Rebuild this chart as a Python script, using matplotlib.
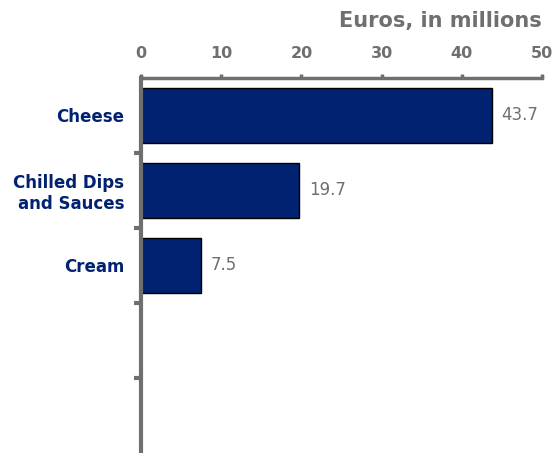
import matplotlib
matplotlib.use("Agg")
from matplotlib import pyplot as plt

categories = ["Cheese", "Chilled Dips\nand Sauces", "Cream", "", ""]
values = [43.7, 19.7, 7.5, None, None]
x_ticks = [0, 10, 20, 30, 40, 50]

navy = "#002270"
grey = "#6f6f6f"

fig = plt.figure(figsize=(5.54, 4.53), dpi=100)
ax = fig.add_axes([0.2545, 0.0, 0.724, 0.828])

positions = list(range(len(categories)))
for pos, val in zip(positions, values):
    if val is None:
        continue
    ax.barh(pos, val, height=0.74, color=navy, edgecolor="black", linewidth=1)
    ax.text(val + 1.2, pos, f"{val}", va="center", ha="left",
            fontsize=12, color=grey)

ax.set_xlim(0, 50)
ax.set_ylim(len(categories) - 0.5, -0.5)

# value axis on top
ax.xaxis.tick_top()
ax.xaxis.set_label_position("top")
ax.set_xticks(x_ticks)
ax.set_xticklabels([str(t) for t in x_ticks], fontsize=11.5, fontweight="bold", color=grey)
ax.tick_params(axis="x", length=3, width=2.5, color=grey, pad=9, direction="out")
ax.set_xlabel("Euros, in millions", fontsize=15, fontweight="bold", color=grey,
              loc="right", labelpad=14)

# category labels centred in slots, ticks on slot boundaries
ax.set_yticks(positions)
ax.set_yticklabels(categories, fontsize=12, fontweight="bold", color=navy,
                   linespacing=1.15, multialignment="right")
ax.tick_params(axis="y", length=0, pad=12)
ax.set_yticks([p + 0.5 for p in positions[:-1]], minor=True)
ax.tick_params(axis="y", which="minor", length=5, width=3, color=grey)

for side in ["right", "bottom"]:
    ax.spines[side].set_visible(False)
ax.spines["top"].set_color(grey)
ax.spines["top"].set_linewidth(2.5)
ax.spines["left"].set_color(grey)
ax.spines["left"].set_linewidth(3)

fig.savefig("out.png", dpi=100)
